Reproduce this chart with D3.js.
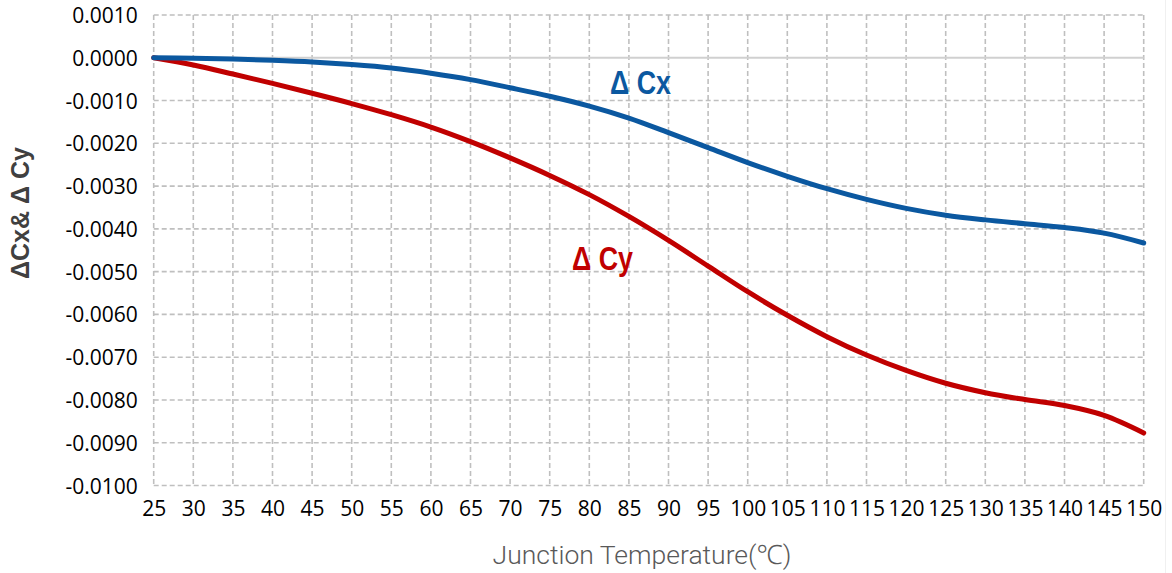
<!DOCTYPE html>
<html>
<head>
<meta charset="utf-8">
<script src="https://cdn.jsdelivr.net/npm/d3@7"></script>
<style>
  html, body { margin: 0; padding: 0; background: #fff; }
  svg { display: block; }
</style>
</head>
<body>
<svg id="chart" width="1172" height="573"></svg>
<script>
// Junction temperature (°C)
const temps = [25, 30, 35, 40, 45, 50, 55, 60, 65, 70, 75, 80, 85, 90, 95, 100,
               105, 110, 115, 120, 125, 130, 135, 140, 145, 150];

// Chromaticity shift Δx
const deltaCx = [0, -0.00001, -0.00003, -0.00006, -0.00010, -0.00016, -0.00024, -0.00036,
                 -0.00051, -0.00070, -0.00090, -0.00113, -0.00141, -0.00175, -0.00210,
                 -0.00245, -0.00277, -0.00306, -0.00331, -0.00352, -0.00368, -0.00379,
                 -0.00388, -0.00397, -0.00410, -0.00433];

// Chromaticity shift Δy
const deltaCy = [0, -0.00017, -0.00038, -0.00060, -0.00083, -0.00107, -0.00133, -0.00162,
                 -0.00196, -0.00234, -0.00275, -0.00320, -0.00371, -0.00427, -0.00487,
                 -0.00547, -0.00602, -0.00652, -0.00695, -0.00731, -0.00761, -0.00783,
                 -0.00799, -0.00813, -0.00836, -0.00877];

const yTicks = [0.001, 0, -0.001, -0.002, -0.003, -0.004, -0.005, -0.006, -0.007,
                -0.008, -0.009, -0.010];

const svg = d3.select("#chart");
const plotLeft = 153.7, plotRight = 1143.7, plotTop = 15, plotBottom = 485.5;

const x = d3.scaleLinear().domain([25, 150]).range([plotLeft, plotRight]);
const y = d3.scaleLinear().domain([-0.010, 0.001]).range([plotBottom, plotTop]);

const tickFont = "'Open Sans', 'Noto Sans', sans-serif";
// plain hyphen for negatives
const fmtY = d => d3.format(".4f")(d).replace("\u2212", "-");

// faint frame edge on the right
svg.append("line")
  .attr("x1", 1165.5).attr("x2", 1165.5).attr("y1", 0).attr("y2", 573)
  .attr("stroke", "#f0f0f0").attr("stroke-width", 1);

// vertical gridlines
svg.append("g")
  .selectAll("line")
  .data(temps)
  .join("line")
  .attr("x1", d => x(d)).attr("x2", d => x(d))
  .attr("y1", plotTop).attr("y2", plotBottom)
  .attr("stroke", "#bfbfbf")
  .attr("stroke-width", 1.6)
  .attr("stroke-dasharray", "5,3");

// horizontal gridlines (zero line solid)
svg.append("g")
  .selectAll("line")
  .data(yTicks)
  .join("line")
  .attr("x1", plotLeft).attr("x2", plotRight)
  .attr("y1", d => y(d)).attr("y2", d => y(d))
  .attr("stroke", d => d === 0 ? "#d0d0d0" : "#bfbfbf")
  .attr("stroke-width", d => d === 0 ? 2 : 1.6)
  .attr("stroke-dasharray", d => d === 0 ? null : "5,3");

// y axis labels
const yAxis = d3.axisLeft(y).tickValues(yTicks).tickFormat(fmtY).tickSize(0).tickPadding(16);
svg.append("g")
  .attr("transform", `translate(${plotLeft},0)`)
  .call(yAxis)
  .call(g => g.select(".domain").remove())
  .call(g => g.selectAll("text")
    .attr("font-family", tickFont)
    .attr("font-size", 21)
    .attr("fill", "#000")
    .attr("dy", "0.36em"));

// x axis labels
const xAxis = d3.axisBottom(x).tickValues(temps).tickFormat(d3.format("d")).tickSize(0).tickPadding(16);
svg.append("g")
  .attr("transform", `translate(0,${plotBottom})`)
  .call(xAxis)
  .call(g => g.select(".domain").remove())
  .call(g => g.selectAll("text")
    .attr("font-family", tickFont)
    .attr("font-size", 21)
    .attr("fill", "#000")
    .attr("dy", "0.71em"));

// curves
const line = d3.line()
  .x((d, i) => x(temps[i]))
  .y(d => y(d))
  .curve(d3.curveCatmullRom.alpha(0.5));

svg.append("path")
  .datum(deltaCy)
  .attr("d", line)
  .attr("fill", "none")
  .attr("stroke", "#c00000")
  .attr("stroke-width", 5)
  .attr("stroke-linecap", "round");

svg.append("path")
  .datum(deltaCx)
  .attr("d", line)
  .attr("fill", "none")
  .attr("stroke", "#0b58a0")
  .attr("stroke-width", 5)
  .attr("stroke-linecap", "round");

// series labels
const seriesFont = "'Liberation Sans Narrow', 'Liberation Sans', Arial, sans-serif";
svg.append("text")
  .attr("x", 610).attr("y", 94)
  .attr("font-family", seriesFont)
  .attr("font-weight", "bold")
  .attr("font-size", 33)
  .attr("textLength", 61)
  .attr("lengthAdjust", "spacingAndGlyphs")
  .attr("fill", "#0b58a0")
  .text("Δ Cx");

svg.append("text")
  .attr("x", 572).attr("y", 270)
  .attr("font-family", seriesFont)
  .attr("font-weight", "bold")
  .attr("font-size", 33)
  .attr("textLength", 61)
  .attr("lengthAdjust", "spacingAndGlyphs")
  .attr("fill", "#c00000")
  .text("Δ Cy");

// axis titles
svg.append("text")
  .attr("transform", "translate(29,213) rotate(-90)")
  .attr("text-anchor", "middle")
  .attr("font-family", "'Liberation Sans', Arial, sans-serif")
  .attr("font-weight", "bold")
  .attr("font-size", 25)
  .attr("fill", "#404040")
  .text("ΔCx& Δ Cy");

svg.append("text")
  .attr("x", 642).attr("y", 564)
  .attr("text-anchor", "middle")
  .attr("font-family", "Roboto, 'Noto Sans', sans-serif")
  .attr("font-weight", 300)
  .attr("font-size", 26.5)
  .attr("fill", "#595959")
  .text("Junction Temperature(℃)");
</script>
</body>
</html>
